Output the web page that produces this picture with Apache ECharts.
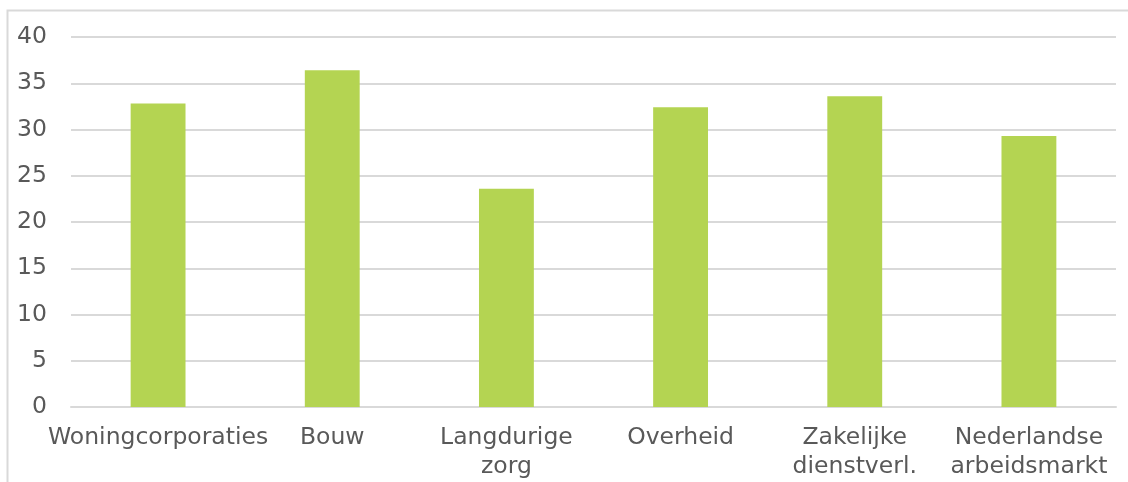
<!DOCTYPE html>
<html>
<head>
<meta charset="utf-8">
<script src="https://cdn.jsdelivr.net/npm/echarts@6/dist/echarts.min.js"></script>
<style>
  html, body { margin: 0; padding: 0; background: #fff; }
  #chart { width: 1128px; height: 482px; }
</style>
</head>
<body>
<div id="chart"></div>
<script>
const categories = [
  'Woningcorporaties',
  'Bouw',
  'Langdurige\nzorg',
  'Overheid',
  'Zakelijke\ndienstverl.',
  'Nederlandse\narbeidsmarkt'
]
const values = [32.8, 36.4, 23.6, 32.4, 33.6, 29.3]
const yTicks = { min: 0, max: 40, interval: 5 }

const chart = echarts.init(document.getElementById('chart'))

const textColor = '#595959'
const font = '"DejaVu Sans", Verdana, sans-serif'

let option = {
  animation: false,
  graphic: [
    {
      type: 'rect',
      shape: { x: 7.5, y: 10.5, width: 1140, height: 500 },
      style: { fill: 'none', stroke: '#d9d9d9', lineWidth: 2 },
      silent: true
    }
  ],
  grid: {
    left: 71,
    right: 12,
    top: 37,
    bottom: 75,
    containLabel: false
  },
  xAxis: {
    type: 'category',
    data: categories,
    axisLine: { show: true, lineStyle: { color: '#d9d9d9', width: 2 } },
    axisTick: { show: false },
    axisLabel: {
      color: textColor,
      fontFamily: font,
      fontSize: 23.5,
      lineHeight: 29,
      margin: 16,
      interval: 0
    }
  },
  yAxis: {
    type: 'value',
    min: yTicks.min,
    max: yTicks.max,
    interval: yTicks.interval,
    axisLine: { show: false },
    axisTick: { show: false },
    axisLabel: {
      color: textColor,
      fontFamily: font,
      fontSize: 23.5,
      margin: 24
    },
    splitLine: { lineStyle: { color: '#d9d9d9', width: 2 } }
  },
  series: [
    {
      type: 'bar',
      data: values,
      barWidth: '31.5%',
      itemStyle: { color: '#b4d452' }
    }
  ]
}

chart.setOption(option)
</script>
</body>
</html>
